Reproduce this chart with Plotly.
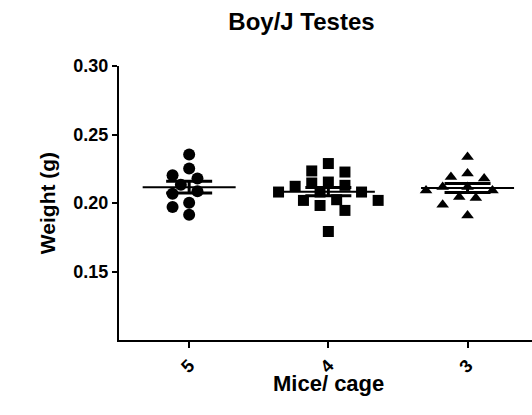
import numpy as np
import plotly.graph_objects as go

# ---- data ----
categories = ["5", "4", "3"]
weights_5 = [0.2354, 0.2251, 0.2178, 0.2202, 0.2085, 0.2068, 0.2134, 0.2002, 0.1970, 0.1914]
weights_4 = [0.2288, 0.2234, 0.2226, 0.2146, 0.2153, 0.2129, 0.2122, 0.2080, 0.2080, 0.2080,
             0.2019, 0.2024, 0.1982, 0.2019, 0.1946, 0.1792]
weights_3 = [0.2336, 0.2215, 0.2190, 0.2178, 0.2092, 0.2092, 0.2043, 0.2036, 0.1988, 0.1909,
             0.2117, 0.2117]
groups = [weights_5, weights_4, weights_3]
symbols = ["circle", "square", "triangle-up"]
y_ticks = [0.15, 0.20, 0.25, 0.30]

# ---- layout geometry ----
W, H = 532, 415
ML, MR, MT, MB = 119, 0, 66, 75
x_range = [-0.504, 2.463]
y_range = [0.10, 0.30]
px_per_x = (W - ML - MR) / (x_range[1] - x_range[0])
px_per_y = (H - MT - MB) / (y_range[1] - y_range[0])


def swarm(values, step_px=8.3, diam_px=12.0):
    """Column-based beeswarm: returns x offsets (axis units)."""
    order = np.argsort(values, kind="stable")[::-1]
    placed = []
    offs = np.zeros(len(values))
    slots = [0]
    for k in range(1, 10):
        slots += [-k, k]
    for idx in order:
        yv = values[idx] * px_per_y
        for s in slots:
            xv = s * step_px
            ok = all((xv - px) ** 2 + (yv - py) ** 2 >= diam_px ** 2 for px, py in placed)
            if ok:
                placed.append((xv, yv))
                offs[idx] = xv / px_per_x
                break
    return offs


fig = go.Figure()
for i, (vals, sym) in enumerate(zip(groups, symbols)):
    vals = np.array(vals)
    offs = swarm(vals)
    fig.add_trace(go.Scatter(
        x=i + offs, y=vals, mode="markers",
        marker=dict(symbol=sym, size=12 if sym == "circle" else 11, color="black",
                    line=dict(width=0)),
        showlegend=False, hoverinfo="y"))

for i, vals in enumerate(groups):
    vals = np.array(vals)
    m = vals.mean()
    sem = vals.std(ddof=1) / np.sqrt(len(vals))
    half = 46.5 / px_per_x
    fig.add_trace(go.Scatter(
        x=[i - half, i + half], y=[m, m], mode="lines",
        line=dict(color="black", width=2), showlegend=False, hoverinfo="skip"))
    fig.add_trace(go.Scatter(
        x=[i], y=[m], mode="markers", marker=dict(size=0.1, color="black"),
        error_y=dict(type="data", array=[sem], visible=True, color="black",
                     thickness=3, width=23),
        showlegend=False, hoverinfo="skip"))

font_family = "Liberation Sans, Arial, sans-serif"
fig.update_layout(
    width=W, height=H,
    margin=dict(l=ML, r=MR, t=MT, b=MB),
    paper_bgcolor="white", plot_bgcolor="white",
    font=dict(family=font_family, color="black"),
    title=dict(text="<b>Boy/J Testes</b>", x=301.5 / W, xref="container", xanchor="center",
               y=1 - 22 / H, yref="container", yanchor="middle",
               font=dict(size=24, family=font_family, color="black")),
    xaxis=dict(range=x_range, tickmode="array", tickvals=[0, 1, 2],
               ticktext=[f"<b>{c}</b>" for c in categories],
               tickangle=-45, ticks="outside", ticklen=6, tickwidth=2, tickcolor="black",
               showline=True, linecolor="black", linewidth=2, showgrid=False, zeroline=False,
               tickfont=dict(size=18, family=font_family)),
    yaxis=dict(range=y_range, tickmode="array", tickvals=y_ticks,
               ticktext=[f"<b>{v:.2f}</b>" for v in y_ticks],
               ticks="outside", ticklen=5, tickwidth=2, tickcolor="black",
               showline=True, linecolor="black", linewidth=2, showgrid=False, zeroline=False,
               tickfont=dict(size=18, family=font_family),
               title=dict(text="<b>Weight (g)</b>", font=dict(size=21, family=font_family),
                          standoff=12)),
)
fig.add_annotation(x=1, xref="x", y=-(383 - (H - MB)) / (H - MT - MB), yref="paper",
                   text="<b>Mice/ cage</b>", showarrow=False,
                   font=dict(size=22, family=font_family, color="black"),
                   xanchor="center", yanchor="middle")

fig.write_html("out.html")
